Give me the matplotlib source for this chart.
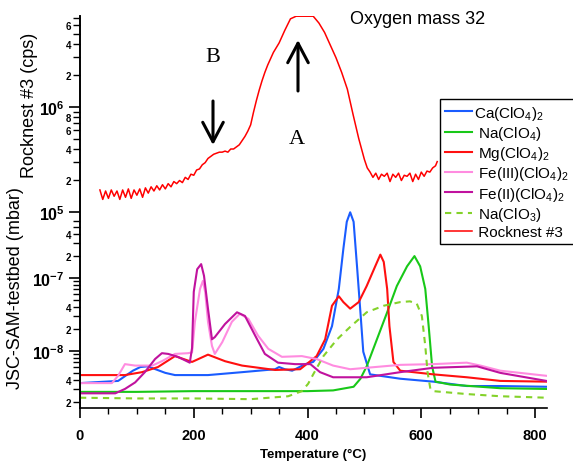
import numpy as np
import matplotlib
matplotlib.use("Agg")
import matplotlib.pyplot as plt
from matplotlib.ticker import FixedLocator, FuncFormatter

plt.rcParams['font.family'] = ['Liberation Sans', 'DejaVu Sans']
plt.rcParams['mathtext.fontset'] = 'custom'
plt.rcParams['mathtext.rm'] = 'Liberation Sans'
plt.rcParams['mathtext.it'] = 'Liberation Sans:italic'
plt.rcParams['mathtext.bf'] = 'Liberation Sans:bold'

# values, exponents (log10) of the y values
ca_T = [0, 67, 93, 106, 119, 150, 167, 225, 285, 343, 350, 360, 373, 396, 410, 428, 443, 455, 463, 469, 475, 481, 487, 493, 498, 510, 563, 621, 680, 739, 820]
ca_log = [-8.44, -8.41, -8.27, -8.22, -8.21, -8.30, -8.33, -8.33, -8.29, -8.25, -8.22, -8.25, -8.27, -8.18, -8.15, -7.97, -7.66, -7.15, -6.60, -6.23, -6.10, -6.23, -6.84, -7.47, -8.01, -8.32, -8.38, -8.42, -8.48, -8.48, -8.49]

na4_T = [0, 100, 200, 300, 400, 445, 481, 493, 504, 522, 540, 557, 575, 588, 598, 607, 613, 619, 625, 651, 739, 820]
na4_log = [-8.56, -8.56, -8.55, -8.55, -8.55, -8.54, -8.49, -8.38, -8.21, -7.84, -7.47, -7.11, -6.84, -6.70, -6.84, -7.15, -7.66, -8.21, -8.42, -8.46, -8.51, -8.52]

mg_T = [0, 79, 109, 137, 167, 197, 225, 255, 285, 343, 387, 416, 431, 443, 455, 463, 475, 490, 504, 519, 528, 534, 540, 544, 551, 563, 621, 680, 739, 820]
mg_log = [-8.33, -8.33, -8.29, -8.22, -8.07, -8.15, -8.05, -8.14, -8.20, -8.26, -8.25, -8.07, -7.84, -7.38, -7.25, -7.33, -7.42, -7.33, -7.11, -6.84, -6.68, -6.78, -7.15, -7.66, -8.15, -8.27, -8.32, -8.36, -8.41, -8.42]

fe3_T = [0, 56, 67, 79, 97, 127, 144, 167, 190, 197, 202, 211, 216, 220, 225, 232, 237, 250, 267, 281, 296, 313, 331, 355, 390, 416, 445, 475, 504, 563, 621, 680, 704, 739, 820]
fe3_log = [-8.44, -8.44, -8.34, -8.18, -8.20, -8.20, -8.14, -8.04, -8.03, -8.02, -7.60, -7.15, -7.04, -7.19, -7.60, -7.93, -8.04, -7.88, -7.60, -7.49, -7.56, -7.79, -7.97, -8.08, -8.07, -8.11, -8.20, -8.25, -8.23, -8.19, -8.18, -8.16, -8.20, -8.27, -8.34]

fe2_T = [0, 62, 79, 97, 114, 132, 144, 155, 172, 193, 197, 200, 206, 213, 218, 225, 232, 237, 255, 276, 290, 308, 325, 348, 378, 405, 422, 445, 504, 563, 621, 698, 739, 820]
fe2_log = [-8.58, -8.58, -8.52, -8.43, -8.29, -8.11, -8.03, -8.04, -8.08, -8.16, -7.96, -7.19, -6.88, -6.81, -6.97, -7.42, -7.84, -7.81, -7.63, -7.47, -7.52, -7.79, -8.04, -8.16, -8.18, -8.18, -8.29, -8.36, -8.36, -8.29, -8.23, -8.21, -8.30, -8.41]

na3_T = [0, 100, 200, 300, 366, 390, 401, 410, 428, 452, 475, 504, 534, 563, 580, 592, 601, 607, 611, 616, 621, 680, 739, 820]
na3_log = [-8.64, -8.65, -8.65, -8.66, -8.62, -8.55, -8.45, -8.32, -8.07, -7.84, -7.67, -7.47, -7.38, -7.33, -7.32, -7.35, -7.52, -7.93, -8.29, -8.52, -8.55, -8.59, -8.62, -8.64]

rock_T = [35, 40, 45, 50, 55, 60, 65, 70, 75, 80, 85, 90, 95, 100, 105, 110, 115, 120, 125, 130,
          135, 140, 145, 150, 155, 160, 165, 170, 175, 180, 185, 190, 195, 200, 205, 210, 215, 220,
          225, 230, 235, 240, 245, 250, 255, 260, 265, 270, 275, 280, 285, 290, 295, 300, 305, 310,
          315, 320, 325, 330, 340, 350, 360, 370, 380, 390, 400, 410, 420, 430, 440, 450, 460, 470,
          480, 490, 500, 505, 510, 515, 520, 525, 530, 535, 540, 545, 550, 555, 560, 565, 570, 575,
          580, 585, 590, 595, 600, 605, 610, 615, 620, 625, 628]
rock_log = [5.21, 5.12, 5.20, 5.13, 5.21, 5.15, 5.20, 5.12, 5.21, 5.14, 5.22, 5.13, 5.21, 5.16, 5.22, 5.14, 5.23, 5.18, 5.24, 5.20,
            5.25, 5.21, 5.26, 5.22, 5.27, 5.24, 5.29, 5.27, 5.30, 5.28, 5.33, 5.31, 5.36, 5.35, 5.40, 5.41, 5.45, 5.47,
            5.51, 5.53, 5.55, 5.56, 5.57, 5.57, 5.58, 5.57, 5.60, 5.60, 5.62, 5.64, 5.68, 5.72, 5.77, 5.83, 5.95, 6.06,
            6.16, 6.25, 6.33, 6.40, 6.52, 6.61, 6.73, 6.84, 6.865, 6.865, 6.865, 6.865, 6.80, 6.71, 6.59, 6.47, 6.33, 6.17,
            5.93, 5.70, 5.50, 5.42, 5.38, 5.33, 5.37, 5.31, 5.36, 5.34, 5.37, 5.29, 5.36, 5.33, 5.37, 5.30, 5.35, 5.34,
            5.37, 5.29, 5.36, 5.31, 5.38, 5.34, 5.39, 5.38, 5.42, 5.44, 5.48]

series = [
    (ca_T, ca_log, 'Ca(ClO$_4$)$_2$', '#1a5cff', '-'),
    (na4_T, na4_log, ' Na(ClO$_4$)', '#18c818', '-'),
    (mg_T, mg_log, ' Mg(ClO$_4$)$_2$', '#ff1010', '-'),
    (fe3_T, fe3_log, ' Fe(III)(ClO$_4$)$_2$', '#ff8ce0', '-'),
    (fe2_T, fe2_log, ' Fe(II)(ClO$_4$)$_2$', '#c0129e', '-'),
    (na3_T, na3_log, ' Na(ClO$_3$)', '#84d22a', (0, (3, 2.5))),
]

W, H = 573, 464
fig = plt.figure(figsize=(W / 100, H / 100), dpi=100)
rect = [80 / W, 1 - 409 / H, (547 - 80) / W, (409 - 17) / H]
ax = fig.add_axes(rect)
ax2 = fig.add_axes(rect, sharex=ax)
ax2.patch.set_visible(False)

handles = []
for T, lg, lab, col, ls in series:
    h, = ax.plot(T, 10 ** np.array(lg), color=col, lw=1.5, ls=ls, label=lab)
    handles.append(h)
h, = ax2.plot(rock_T, 10 ** np.array(rock_log), color='#ff0000', lw=1.1, label=' Rocknest #3')
handles.append(h)

ax.set_yscale('log')
ax2.set_yscale('log')
ax.set_xlim(0, 821)
ax.set_ylim(10 ** -8.781, 10 ** -3.411)
ax2.set_ylim(10 ** 3.133, 10 ** 6.867)

for a in (ax, ax2):
    a.spines['top'].set_visible(False)
    a.spines['right'].set_visible(False)
    a.spines['left'].set_linewidth(1.2)
ax.spines['bottom'].set_linewidth(1.2)
ax2.spines['bottom'].set_visible(False)
ax2.tick_params(axis='x', which='both', bottom=False, labelbottom=False)


def minor_fmt(shown):
    def f(v, pos):
        m = v / 10 ** np.floor(np.log10(v) + 1e-9)
        m = int(round(m))
        return str(m) if m in shown else ''
    return f


def major_fmt(v, pos):
    e = int(round(np.log10(v)))
    return r'$\mathbf{10^{%d}}$' % e


# bottom axis (JSC-SAM testbed) ticks
ax.yaxis.set_major_locator(FixedLocator([1e-8, 1e-7]))
ax.yaxis.set_minor_locator(FixedLocator([m * 1e-9 for m in range(2, 10)] +
                                        [m * 1e-8 for m in range(2, 10)] +
                                        [m * 1e-7 for m in range(2, 7)]))
ax.yaxis.set_major_formatter(FuncFormatter(major_fmt))
ax.yaxis.set_minor_formatter(FuncFormatter(minor_fmt([2, 4])))

# top axis (Rocknest) ticks
ax2.yaxis.set_major_locator(FixedLocator([1e5, 1e6]))
ax2.yaxis.set_minor_locator(FixedLocator([m * 1e5 for m in range(2, 10)] +
                                         [m * 1e6 for m in range(2, 8)]))
ax2.yaxis.set_major_formatter(FuncFormatter(major_fmt))
fmt_top = minor_fmt([2, 4, 6, 8])
ax2.yaxis.set_minor_formatter(FuncFormatter(
    lambda v, p: '' if (v > 1e6 and int(round(v / 1e6)) == 8) else fmt_top(v, p)))

for a in (ax, ax2):
    a.tick_params(axis='y', which='major', length=8, width=1.2, labelsize=11.5, pad=3, direction='out')
    a.tick_params(axis='y', which='minor', length=5, width=1, labelsize=7, pad=1.5, direction='out')
    for t in a.get_yticklabels(which='minor'):
        t.set_fontweight('bold')

ax.xaxis.set_major_locator(FixedLocator([0, 200, 400, 600, 800]))
ax.xaxis.set_minor_locator(FixedLocator(list(range(50, 821, 50))))
ax.tick_params(axis='x', which='major', length=7.5, width=1.2, labelsize=10.5, pad=7)
ax.tick_params(axis='x', which='minor', length=4.5, width=1)
for t in ax.get_xticklabels():
    t.set_fontweight('bold')
ax.set_xlabel('Temperature (\u00b0C)', fontsize=9.5, fontweight='bold', labelpad=4)

fig.text(30 / W, 1 - 105 / H, 'Rocknest #3 (cps)', rotation=90, ha='center', va='center', fontsize=13)
fig.text(16 / W, 1 - 288 / H, 'JSC-SAM-testbed (mbar)', rotation=90, ha='center', va='center', fontsize=13)

fig.text(418 / W, 1 - 20 / H, 'Oxygen mass 32', ha='center', va='center', fontsize=13)
fig.text(213 / W, 1 - 58 / H, 'B', ha='center', va='center', fontsize=16, family='Liberation Serif')
fig.text(297 / W, 1 - 140 / H, 'A', ha='center', va='center', fontsize=16, family='Liberation Serif')

arrow = dict(arrowstyle='->,head_length=0.7,head_width=0.37', lw=2.2, color='black',
             mutation_scale=20, shrinkA=0, shrinkB=0)
fig.add_artist(matplotlib.patches.FancyArrowPatch((213 / W, 1 - 102 / H), (213 / W, 1 - 146 / H),
                                                  transform=fig.transFigure, **arrow))
fig.add_artist(matplotlib.patches.FancyArrowPatch((298 / W, 1 - 92 / H), (298 / W, 1 - 41 / H),
                                                  transform=fig.transFigure, **arrow))

leg = fig.legend(handles, [h.get_label() for h in handles], loc='upper left',
                 bbox_to_anchor=(440 / W, 1 - 100 / H), fontsize=11, frameon=True, fancybox=False,
                 edgecolor='black', framealpha=1, handlelength=1.8, handletextpad=0.15,
                 labelspacing=0.15, borderpad=0.3, borderaxespad=0)
leg.get_frame().set_linewidth(1.0)

fig.savefig('out.png', dpi=100)
